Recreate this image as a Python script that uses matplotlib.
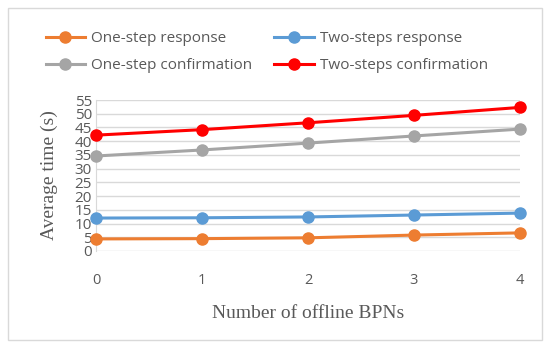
import matplotlib.pyplot as plt
from matplotlib.patches import Rectangle

# data
offline_bpns = [0, 1, 2, 3, 4]
one_step_response = [4.4, 4.5, 4.8, 5.8, 6.6]
two_steps_response = [12.0, 12.1, 12.4, 13.1, 13.8]
one_step_confirmation = [34.6, 36.8, 39.3, 41.9, 44.4]
two_steps_confirmation = [42.2, 44.2, 46.7, 49.4, 52.3]
y_ticks = list(range(0, 60, 5))

fig = plt.figure(figsize=(5.5, 3.48), dpi=100)
fig.patches.append(Rectangle((8 / 550, 8 / 348), 534 / 550, 332 / 348,
                             transform=fig.transFigure, fill=False,
                             edgecolor="#d9d9d9", linewidth=1))

ax = fig.add_axes([96 / 550, 97 / 348, 424 / 550, 151 / 348])

sans = "Open Sans"
serif = "Liberation Serif"

series = [
    ("One-step response", one_step_response, "#ED7D31"),
    ("Two-steps response", two_steps_response, "#5B9BD5"),
    ("One-step confirmation", one_step_confirmation, "#A5A5A5"),
    ("Two-steps confirmation", two_steps_confirmation, "#FF0000"),
]
lines = []
for name, vals, col in series:
    ln, = ax.plot(offline_bpns, vals, color=col, lw=2.2, marker="o", ms=8,
                  label=name, zorder=3, clip_on=False)
    lines.append(ln)

ax.set_xlim(0, 4)
ax.set_ylim(0, 55)
ax.set_yticks(y_ticks)
ax.set_xticks(offline_bpns)
ax.grid(axis="y", color="#d9d9d9", lw=1)
ax.set_axisbelow(True)
for s in ["top", "right", "bottom"]:
    ax.spines[s].set_visible(False)
ax.spines["left"].set_color("#d9d9d9")
ax.tick_params(length=0, labelcolor="#595959", labelsize=10.5)
ax.tick_params(axis="y", labelsize=11, pad=3)
ax.tick_params(axis="x", pad=16)
for lab in ax.get_xticklabels() + ax.get_yticklabels():
    lab.set_family(sans)

ax.set_xlabel("Number of offline BPNs", family=serif, fontsize=14,
              color="#595959", labelpad=12)
ax.set_ylabel("Average time (s)", family=serif, fontsize=14,
              color="#595959", labelpad=12)

# column-wise fill: put the response pair on the first row
order = [0, 2, 1, 3]
leg = fig.legend([lines[i] for i in order], [series[i][0] for i in order],
                 ncol=2, loc="center", frameon=False,
                 prop={"family": sans, "size": 11}, handlelength=2.6,
                 columnspacing=1.4, labelspacing=0.8, handletextpad=0.4)
leg.set_bbox_to_anchor((0.485, 1 - 52 / 348), transform=fig.transFigure)
for t in leg.get_texts():
    t.set_color("#595959")

fig.savefig("out.png", dpi=100)
